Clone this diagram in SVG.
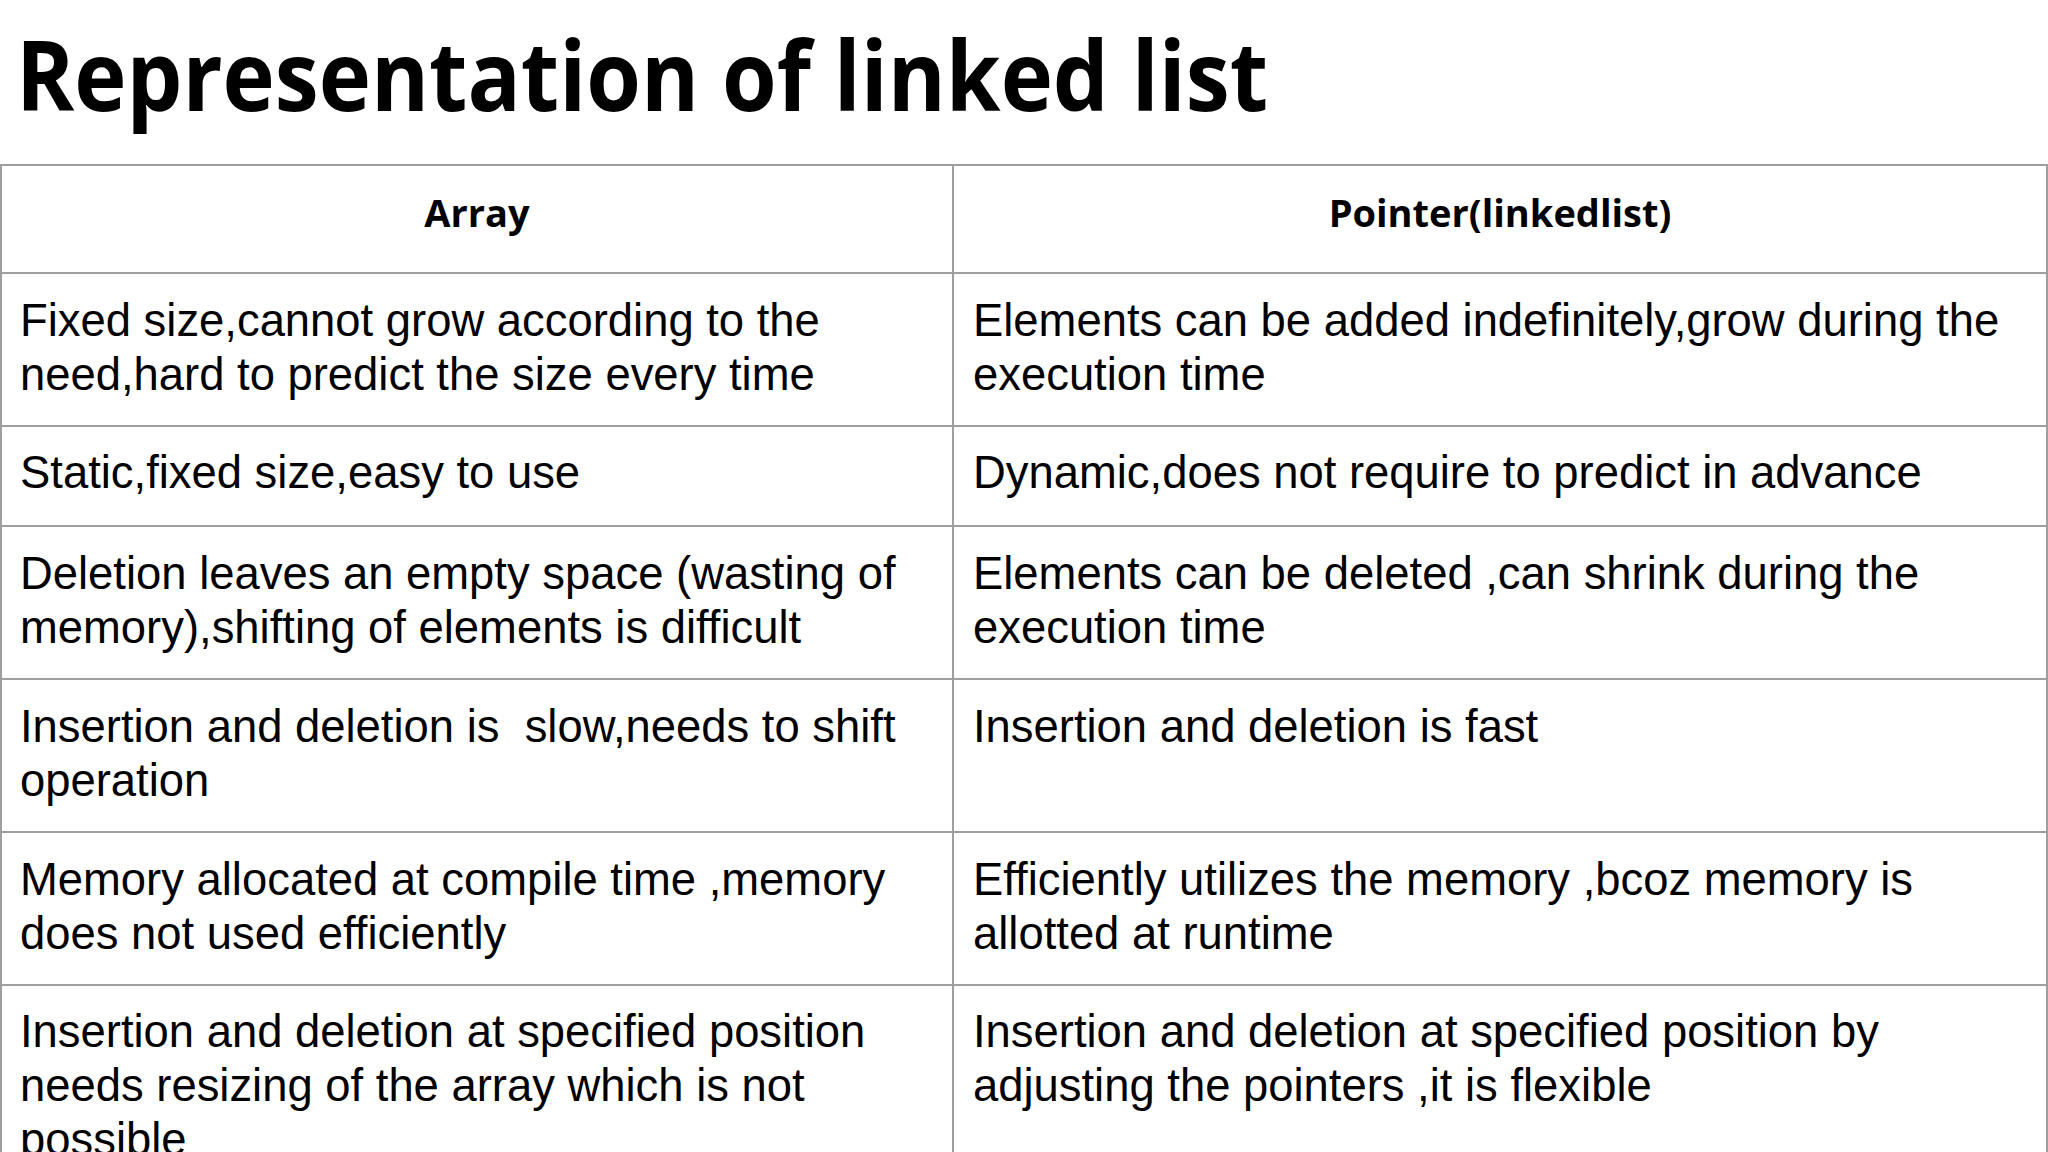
<svg xmlns="http://www.w3.org/2000/svg" width="2048" height="1152" viewBox="0 0 2048 1152">
<style>
.t{font-family:"Liberation Sans",Arial,sans-serif;font-size:45.4px;fill:#000}
.h{font-family:"Open Sans","Liberation Sans",sans-serif;font-weight:bold;font-size:38px;fill:#000;text-anchor:middle}
.g line{stroke:#9e9e9e;stroke-width:2}
</style>
<rect width="2048" height="1152" fill="#fff"/>
<text x="16" y="111" font-family="Open Sans,Liberation Sans,sans-serif" font-weight="bold" font-size="96" textLength="1252" lengthAdjust="spacingAndGlyphs">Representation of linked list</text>
<g class="g">
<line x1="0" y1="165" x2="2048" y2="165"/>
<line x1="0" y1="273" x2="2048" y2="273"/>
<line x1="0" y1="426" x2="2048" y2="426"/>
<line x1="0" y1="526" x2="2048" y2="526"/>
<line x1="0" y1="679" x2="2048" y2="679"/>
<line x1="0" y1="832" x2="2048" y2="832"/>
<line x1="0" y1="985" x2="2048" y2="985"/>
<line x1="1" y1="165" x2="1" y2="1152"/>
<line x1="953" y1="165" x2="953" y2="1152"/>
<line x1="2047" y1="165" x2="2047" y2="1152"/>
</g>
<text class="h" x="477" y="227">Array</text>
<text class="h" x="1500" y="227">Pointer(linkedlist)</text>
<g class="t">
<text x="20" y="336">Fixed size,cannot grow according to the</text>
<text x="20" y="390">need,hard to predict the size every time</text>
<text x="973" y="336">Elements can be added indefinitely,grow during the</text>
<text x="973" y="390">execution time</text>
<text x="20" y="488">Static,fixed size,easy to use</text>
<text x="973" y="488">Dynamic,does not require to predict in advance</text>
<text x="20" y="589">Deletion leaves an empty space (wasting of</text>
<text x="20" y="643">memory),shifting of elements is difficult</text>
<text x="973" y="589">Elements can be deleted ,can shrink during the</text>
<text x="973" y="643">execution time</text>
<text x="20" y="742" xml:space="preserve">Insertion and deletion is  slow,needs to shift</text>
<text x="20" y="796">operation</text>
<text x="973" y="742">Insertion and deletion is fast</text>
<text x="20" y="895">Memory allocated at compile time ,memory</text>
<text x="20" y="949">does not used efficiently</text>
<text x="973" y="895">Efficiently utilizes the memory ,bcoz memory is</text>
<text x="973" y="949">allotted at runtime</text>
<text x="20" y="1047">Insertion and deletion at specified position</text>
<text x="20" y="1101">needs resizing of the array which is not</text>
<text x="20" y="1155">possible</text>
<text x="973" y="1047">Insertion and deletion at specified position by</text>
<text x="973" y="1101">adjusting the pointers ,it is flexible</text>
</g>
</svg>
